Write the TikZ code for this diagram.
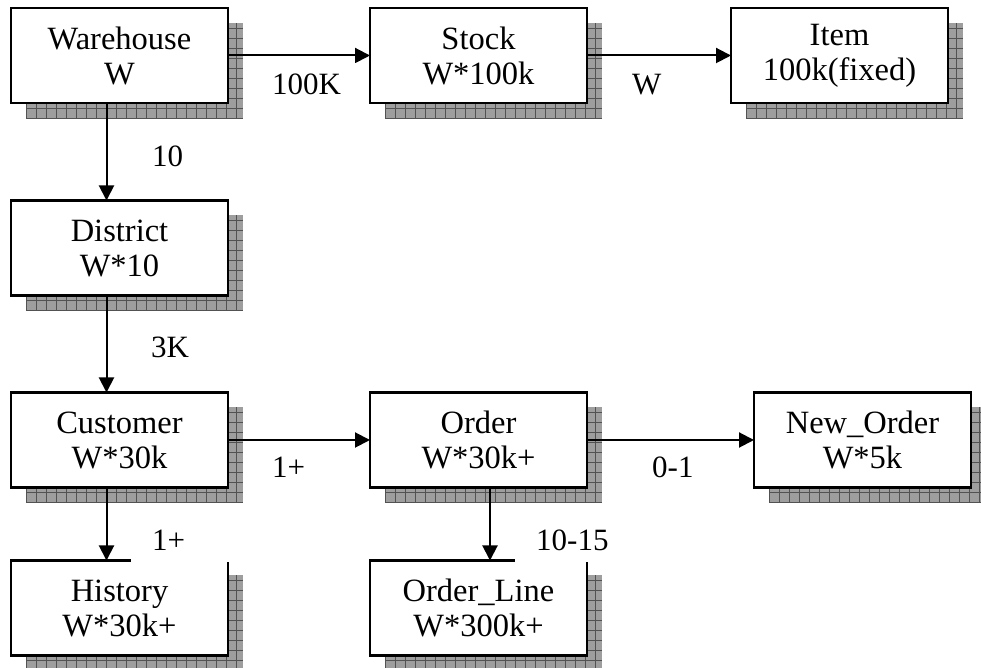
\documentclass[tikz,border=0pt]{standalone}
\usepackage{fontspec}
\setmainfont{Liberation Serif}
\usetikzlibrary{arrows.meta,calc,backgrounds}

\tikzset{
  table/.style={draw, line width=2.4pt, fill=white, outer sep=0pt,
    minimum width=217pt, minimum height=95pt, align=center,
    font=\fontsize{32.5}{35}\selectfont},
  card/.style={fill=white, anchor=base west, inner xsep=21pt,
    inner ysep=11pt, font=\fontsize{31}{35}\selectfont},
  widecard/.style={card, text width=80pt, align=left},
  link/.style={line width=2pt, -{Triangle[length=15pt,width=15pt]}},
  shadowfill/.style={fill=black!38},
  shadowgrid/.style={draw=black!68, line width=0.7pt}
}

\begin{document}
\begin{tikzpicture}[x=1pt, y=1pt]
  \useasboundingbox (0,0) rectangle (981,668);

  % tables
  \node[table] (wh) at (119.5,612.5) {Warehouse\\W};
  \node[table] (st) at (478.5,612.5) {Stock\\W*100k};
  \node[table] (it) at (839.5,612.5) {Item\\100k(fixed)};
  \node[table] (di) at (119.5,420) {District\\W*10};
  \node[table] (cu) at (119.5,228) {Customer\\W*30k};
  \node[table] (or) at (478.5,228) {Order\\W*30k+};
  \node[table] (no) at (862.5,228) {New\_Order\\W*5k};
  \node[table] (hi) at (119.5,60) {History\\W*30k+};
  \node[table] (ol) at (478.5,60) {Order\_Line\\W*300k+};

  % shadows
  \begin{scope}[on background layer]
    \foreach \n in {wh,st,it,di,cu,or,no,hi,ol} {
      \begin{scope}[shift={($(\n.south west)+(15,-15)$)}]
        \fill[shadowfill] (0,0) rectangle (217,95);
        \draw[shadowgrid] (0,0) grid[step=10] (217,95);
      \end{scope}
    }
  \end{scope}

  % links
  \draw[link] (wh) -- (st);
  \draw[link] (st) -- (it);
  \draw[link] ([xshift=-13pt]wh.south) -- ([xshift=-13pt]di.north);
  \draw[link] ([xshift=-13pt]di.south) -- ([xshift=-13pt]cu.north);
  \draw[link] (cu) -- (or);
  \draw[link] (or) -- (no);
  \draw[link] ([xshift=-13pt]cu.south) -- ([xshift=-13pt]hi.north);
  \draw[link] ([xshift=11.5pt]or.south) -- ([xshift=11.5pt]ol.north);

  % cardinalities
  \node[card] (c1) at (251,573) {100K};
  \node[card] (c2) at (611,573) {W};
  \node[card] (c3) at (131,501) {10};
  \node[card] (c4) at (130,310) {3K};
  \node[card] (c5) at (251,190) {1+};
  \node[card] (c6) at (631,190) {0-1};
  \node[widecard] (c7) at (131,117) {1+};
  \node[widecard] (c8) at (515,117) {\mbox{10-15}};
\end{tikzpicture}
\end{document}
